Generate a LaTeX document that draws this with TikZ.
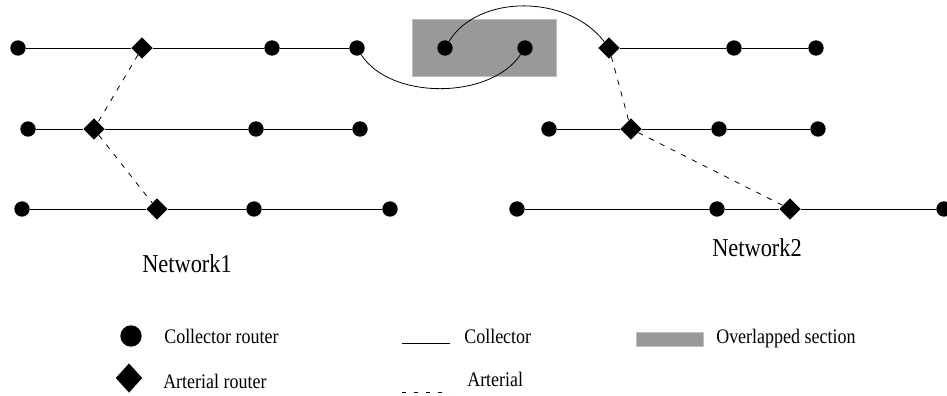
\documentclass[tikz,border=0pt]{standalone}
\usepackage{fontspec}
\setmainfont{Liberation Serif}
\newfontfamily\narrowserif[FakeStretch=0.87]{Liberation Serif}
\usetikzlibrary{shapes.geometric}
\tikzset{
	router/.style={circle, fill=black, inner sep=0pt, minimum size=11.5pt},
	arterialrouter/.style={diamond, fill=black, inner sep=0pt, minimum size=16pt},
	collector/.style={line width=0.7pt},
	arterial/.style={line width=0.6pt, dash pattern=on 4pt off 5pt},
	overlap/.style={fill=black!40, draw=black!25, line width=0.5pt},
	legendtext/.style={anchor=base west, inner sep=0pt, font=\narrowserif\fontsize{15.5}{18}\selectfont},
	nettext/.style={anchor=base west, inner sep=0pt, font=\narrowserif\fontsize{19.3}{22}\selectfont}
}

\begin{document}
\begin{tikzpicture}[x=0.75pt, y=-0.75pt]
    \useasboundingbox (0,0) rectangle (947,396);

    % Overlapped section
    \draw[overlap] (412,19) rectangle (556,76);

    % Collector routers
    \foreach \x/\y/\name in {18/48/a1, 272/48/a3, 357/48/a4,
                             28/129/b1, 256/129/b3, 360/129/b4,
                             22/209/c1, 254/209/c3, 390/209/c4,
                             445/48/o1, 525/48/o2,
                             734/48/d2, 816/48/d3,
                             549/129/e1, 719/129/e3, 818/129/e4,
                             517/209/f1, 717/209/f2, 944/209/f4} {
      \node[router] (\name) at (\x,\y) {};
    }

    % Arterial routers
    \foreach \x/\y/\name in {142/48/a2, 94/129/b2, 157/209/c2,
                             609/48/d1, 631/129/e2, 790/209/f3} {
      \node[arterialrouter] (\name) at (\x,\y) {};
    }

    % Collectors, Network1
    \draw[collector] (a1) -- (a2) -- (a3) -- (a4);
    \draw[collector] (b1) -- (b2) -- (b3) -- (b4);
    \draw[collector] (c1) -- (c2) -- (c3) -- (c4);

    % Collectors, Network2
    \draw[collector] (d1) -- (d2) -- (d3);
    \draw[collector] (e1) -- (e2) -- (e3) -- (e4);
    \draw[collector] (f1) -- (f2) -- (f3) -- (f4);

    % Links through the overlapped section
    \draw[line width=0.6pt] (a4) .. controls (390,100) and (490,100) .. (o2);
    \draw[line width=0.6pt] (o1) .. controls (478,-6) and (568,-6) .. (d1);

    % Arterials
    \draw[arterial] (a2) -- (b2) -- (c2);
    \draw[arterial] (d1) -- (e2) -- (f3);

    % Network names
    \node[nettext] (net1) at (142,272) {Network1};
    \node[nettext] (net2) at (712,256) {Network2};

    % Legend
    \node[circle, fill=black, inner sep=0pt, minimum width=15pt, minimum height=16pt] (lrouter) at (131,336) {};
    \node[legendtext] (lroutertext) at (164,343) {Collector router};
    \node[diamond, fill=black, inner sep=0pt, minimum width=20pt, minimum height=22pt] (lart) at (129,378) {};
    \node[legendtext] (larttext) at (163,388) {Arterial router};

    \coordinate (lcs) at (402,343);
    \coordinate (lce) at (450,343);
    \draw[collector] (lcs) -- (lce);
    \node[legendtext] (lcoltext) at (464,343) {Collector};

    \coordinate (las) at (402,392);
    \coordinate (lae) at (450,392);
    \draw[line width=0.7pt, dash pattern=on 3pt off 6pt] (las) -- (lae);
    \node[legendtext] (lartltext) at (467,386) {Arterial};

    \draw[overlap] (636,332) rectangle (703,346);
    \node[legendtext] (lovtext) at (716,343) {Overlapped section};
\end{tikzpicture}
\end{document}
